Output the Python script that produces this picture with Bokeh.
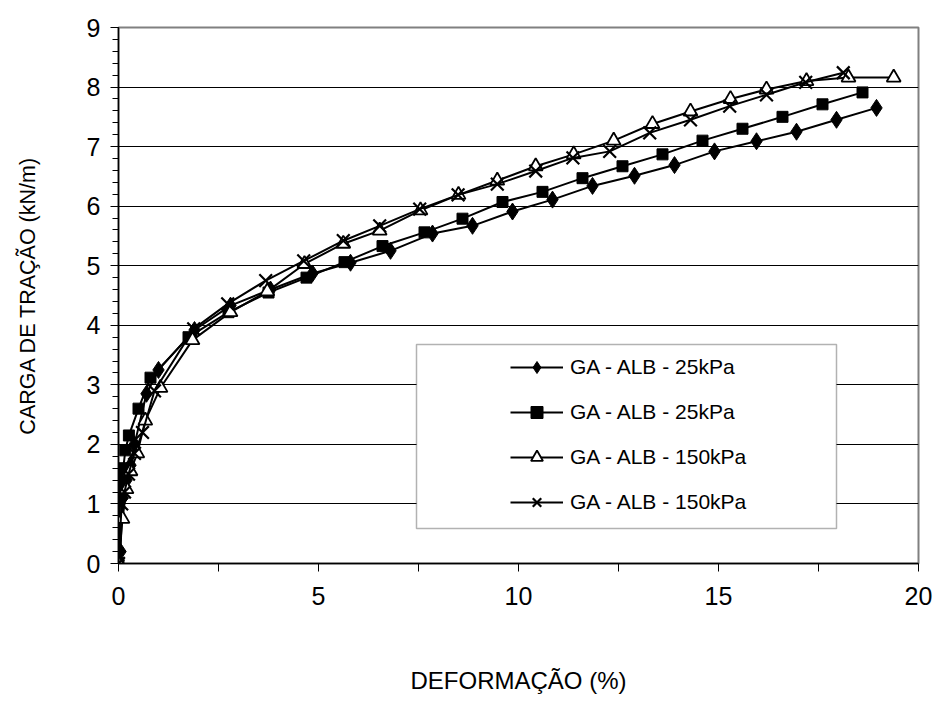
from bokeh.plotting import figure
from bokeh.models import FixedTicker, Legend, LegendItem, BoxAnnotation, Range1d
from bokeh.embed import file_html
from bokeh.resources import INLINE

# ---- data ----
x_d = [0, 0.05, 0.1, 0.2, 0.3, 0.4, 0.7, 1.0, 1.9, 2.8, 3.8, 4.85, 5.8, 6.8, 7.85, 8.85,
       9.85, 10.85, 11.85, 12.9, 13.9, 14.9, 15.95, 16.95, 17.95, 18.95]
y_d = [0.05, 0.2, 1.1, 1.4, 1.65, 2.0, 2.85, 3.25, 3.92, 4.33, 4.6, 4.87, 5.05, 5.25, 5.54, 5.67,
       5.91, 6.11, 6.34, 6.51, 6.69, 6.92, 7.09, 7.25, 7.45, 7.65]

x_s = [0, 0.05, 0.08, 0.12, 0.17, 0.26, 0.5, 0.8, 1.75, 2.75, 3.75, 4.7, 5.65, 6.6, 7.65, 8.6,
       9.6, 10.6, 11.6, 12.6, 13.6, 14.6, 15.6, 16.6, 17.6, 18.6]
y_s = [0.0, 1.3, 1.45, 1.6, 1.9, 2.15, 2.6, 3.12, 3.8, 4.22, 4.55, 4.8, 5.06, 5.33, 5.56, 5.79,
       6.07, 6.24, 6.47, 6.67, 6.87, 7.1, 7.3, 7.5, 7.71, 7.91]

x_t = [0, 0.1, 0.2, 0.3, 0.47, 0.67, 1.05, 1.85, 2.8, 3.72, 4.65, 5.62, 6.53, 7.55, 8.5, 9.47,
       10.43, 11.38, 12.38, 13.35, 14.3, 15.3, 16.2, 17.2, 18.25, 19.38]
y_t = [0.0, 0.75, 1.25, 1.55, 1.85, 2.4, 2.95, 3.75, 4.22, 4.57, 5.03, 5.37, 5.59, 5.93, 6.19, 6.43,
       6.67, 6.87, 7.1, 7.38, 7.59, 7.8, 7.96, 8.1, 8.16, 8.16]

x_x = [0, 0.08, 0.15, 0.25, 0.4, 0.6, 0.9, 1.88, 2.73, 3.68, 4.63, 5.62, 6.53, 7.53, 8.49, 9.47,
       10.43, 11.36, 12.28, 13.28, 14.3, 15.28, 16.2, 17.18, 18.12]
y_x = [0.0, 1.0, 1.2, 1.5, 1.85, 2.2, 2.9, 3.94, 4.36, 4.75, 5.08, 5.42, 5.67, 5.95, 6.19, 6.37,
       6.59, 6.81, 6.92, 7.23, 7.45, 7.68, 7.87, 8.08, 8.24]

labels = ["GA - ALB - 25kPa", "GA - ALB - 25kPa", "GA - ALB - 150kPa", "GA - ALB - 150kPa"]
x_ticks = [0, 5, 10, 15, 20]
x_minor = [2.5, 7.5, 12.5, 17.5]
y_ticks = [0, 1, 2, 3, 4, 5, 6, 7, 8, 9]
y_minor = [round(i * 0.2, 1) for i in range(46)]
x_title = "DEFORMAÇÃO (%)"
y_title = "CARGA DE TRAÇÃO (kN/m)"

FONT = "Liberation Sans"

p = figure(width=937, height=702, output_backend="svg", toolbar_location=None,
           x_range=Range1d(0, 20), y_range=Range1d(0, 9),
           min_border_left=118, min_border_right=19, min_border_top=27, min_border_bottom=139)
p.background_fill_color = "white"
p.border_fill_color = "white"
p.outline_line_color = "#808080"
p.outline_line_width = 2

p.xgrid.visible = False
p.ygrid.grid_line_color = "black"
p.ygrid.grid_line_width = 1
p.ygrid.ticker = FixedTicker(ticks=y_ticks)

for ax in (p.xaxis[0], p.yaxis[0]):
    ax.axis_line_color = "black"
    ax.axis_line_width = 1.5
    ax.major_tick_line_color = "black"
    ax.minor_tick_line_color = "black"
    ax.major_tick_in = 0
    ax.minor_tick_in = 0
    ax.major_label_text_font = FONT
    ax.major_label_text_font_size = "25px"
    ax.major_label_text_color = "black"
    ax.axis_label_text_font = FONT
    ax.axis_label_text_font_style = "normal"
    ax.axis_label_text_color = "black"

p.xaxis.axis_label_text_font_size = "24px"
p.yaxis.axis_label_text_font_size = "21.5px"

p.xaxis.ticker = FixedTicker(ticks=x_ticks, minor_ticks=x_minor)
p.xaxis.major_tick_out = 8
p.xaxis.minor_tick_out = 8
p.xaxis.major_label_standoff = 15
p.xaxis.axis_label = x_title
p.xaxis.axis_label_standoff = 59

p.yaxis.ticker = FixedTicker(ticks=y_ticks, minor_ticks=y_minor)
p.yaxis.major_tick_out = 8
p.yaxis.minor_tick_out = 6
p.yaxis.major_label_standoff = 10
p.yaxis.axis_label = y_title
p.yaxis.axis_label_standoff = 44

LW = 2
r1l = p.line(x_d, y_d, line_color="black", line_width=LW)
r1m = p.scatter(x_d, y_d, marker="diamond", size=17, fill_color="black", line_color="black")
r2l = p.line(x_s, y_s, line_color="black", line_width=LW)
r2m = p.scatter(x_s, y_s, marker="square", size=11, fill_color="black", line_color="black")
r3l = p.line(x_t, y_t, line_color="black", line_width=LW)
r3m = p.scatter(x_t, y_t, marker="triangle", size=14, fill_color="white", line_color="black", line_width=1.8)
r4l = p.line(x_x, y_x, line_color="black", line_width=LW)
r4m = p.scatter(x_x, y_x, marker="x", size=18, line_color="black", line_width=2.2)

box = BoxAnnotation(left=416, right=836, top=344, bottom=528,
                    left_units="canvas", right_units="canvas", top_units="canvas", bottom_units="canvas",
                    fill_color="white", fill_alpha=1, line_color="black", line_width=1.5, level="overlay")
p.add_layout(box)

legend = Legend(items=[LegendItem(label=labels[0], renderers=[r1l, r1m]),
                       LegendItem(label=labels[1], renderers=[r2l, r2m]),
                       LegendItem(label=labels[2], renderers=[r3l, r3m]),
                       LegendItem(label=labels[3], renderers=[r4l, r4m])],
                location=(392, 46), padding=0, margin=0, spacing=15,
                glyph_width=53, glyph_height=30, label_height=30, label_standoff=7,
                label_text_font=FONT, label_text_font_size="21px", label_text_color="black",
                border_line_alpha=0, background_fill_alpha=0)
p.add_layout(legend)

open("out.html", "w").write(file_html(p, INLINE))
